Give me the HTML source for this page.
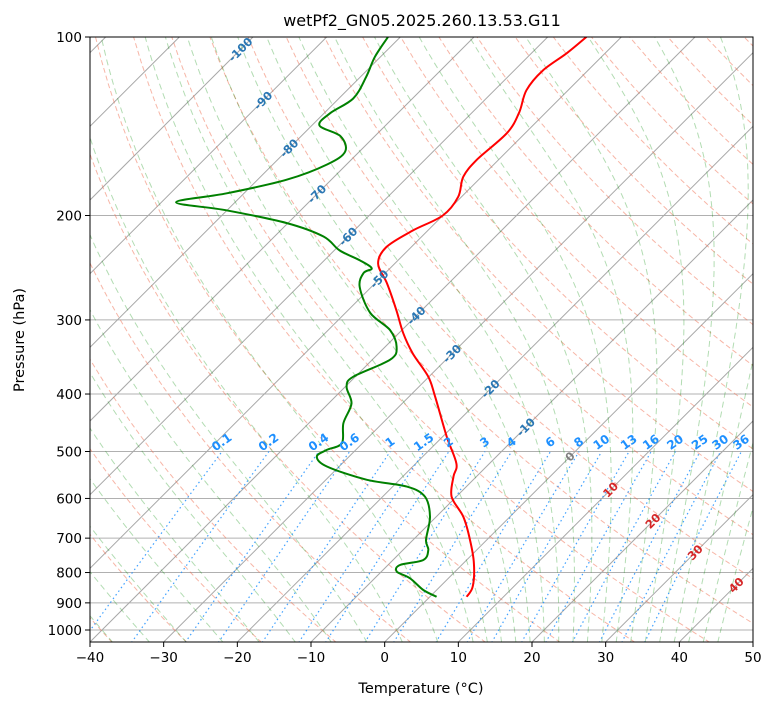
<!DOCTYPE html>
<html><head><meta charset="utf-8"><style>
body{margin:0;background:#fff;}
svg{display:block;font-family:"DejaVu Sans","Liberation Sans",sans-serif;}
</style></head><body>
<svg id="chart" width="775" height="708" viewBox="0 0 775 708" xmlns="http://www.w3.org/2000/svg">
<defs><clipPath id="plotclip"><rect x="90" y="37" width="663" height="605"/></clipPath></defs>
<rect width="775" height="708" fill="#fff"/>
<text x="422" y="26" text-anchor="middle" font-size="16">wetPf2_GN05.2025.260.13.53.G11</text>
<g id="plot" clip-path="url(#plotclip)"></g>
<g id="labels"></g>
<rect x="90" y="37" width="663" height="605" fill="none" stroke="#000" stroke-width="1"/>
<g id="axes"></g>
<text x="421" y="693" text-anchor="middle" font-size="14.5">Temperature (°C)</text>
<text x="24" y="340" text-anchor="middle" font-size="14.5" transform="rotate(-90 24 340)">Pressure (hPa)</text>
</svg>
<script>
// ---- data ----
const tempPressure = [879,845,772,705,644,596,551,524,472,404,374,342,316,289,260,241,226,212,200,186,172,161,145,134,123,114,106.5,100];
const tempValues = [4.98,4.44,1.44,-2.26,-6.34,-10.63,-13.12,-14.48,-19.45,-26.47,-30.09,-35.3,-39.38,-43.43,-48.42,-52.27,-53.38,-52.04,-50.0,-50.45,-52.49,-52.94,-52.49,-53.63,-55.65,-56.11,-55.2,-54.74];
const dewPressure = [879,856,818,797,777,762,733,705,644,596,573,558,530,510,497,484,448,415,389,374,350,333,312,292,264,250,245.5,238,229,217,206,196,190,183.5,174,164,156,147,141,134.5,127,117,108,100];
const dewValues = [0.91,-1.82,-5.21,-7.91,-8.37,-5.89,-6.57,-8.24,-10.86,-14.25,-18.09,-24.43,-31.67,-34.38,-33.93,-32.81,-35.3,-36.88,-39.81,-40.27,-37.56,-38.45,-41.63,-46.61,-51.58,-52.95,-52.49,-55.2,-59.28,-63.35,-70.13,-80.08,-88.0,-82.35,-76.01,-72.62,-71.94,-74.66,-78.96,-79.19,-78.06,-79.18,-80.76,-81.67];
const xTicks = [-40,-30,-20,-10,0,10,20,30,40,50];
const yTicks = [100,200,300,400,500,600,700,800,900,1000];
const isoLabels = [-100,-90,-80,-70,-60,-50,-40,-30,-20,-10,0,10,20,30,40];
const isoLabelPressure = [105,128,154,184,217,256,295,342,392,455,510,580,655,740,840];
const mixingRatios = [0.1,0.2,0.4,0.6,1,1.5,2,3,4,6,8,10,13,16,20,25,30,36];
const moistStarts = [-50,-45,-40,-35,-30,-25,-20,-15,-10,-5,0,5,10,12,14,16,18,20,22,24,26,28,30,32,34,36,38,40,42,44];

// ---- axis functions ----
const X0=90,X1=753,Y0=37,YB=642,KX=(X1-X0)/90,PY=593;
function yOf(p){return Y0+PY*Math.log10(p/100);}
function xOf(T,p){const y=yOf(p);return X0+(T+40)*KX+(YB-y);}
const NS="http://www.w3.org/2000/svg";
const plot=document.getElementById('plot'),labels=document.getElementById('labels'),axes=document.getElementById('axes');
function mk(tag,attrs,parent){const e=document.createElementNS(NS,tag);for(const k in attrs)e.setAttribute(k,attrs[k]);parent.appendChild(e);return e;}
function polyPts(arr){return arr.map(a=>a[0].toFixed(1)+','+a[1].toFixed(1)).join(' ');}

for(let p=100;p<=1000;p+=100){
  const l=mk('line',{x1:X0,x2:X1,y1:yOf(p),y2:yOf(p),stroke:'#b0b0b0','stroke-width':1},plot);
  
  
}
for(let T=-160;T<=60;T+=10){
  const l=mk('line',{x1:xOf(T,1050),y1:yOf(1050),x2:xOf(T,100),y2:yOf(100),stroke:'#a8a8a8','stroke-width':1},plot);
  
  
}
for(let th=203;th<=573;th+=10){
  const pts=[];
  for(let p=1050;p>=100;p-=10){pts.push([xOf(th*Math.pow(p/1000,0.2857)-273.15,p),yOf(p)]);}
  const l=mk('polyline',{points:polyPts(pts),fill:'none',stroke:'rgba(240,110,80,0.5)','stroke-width':1,'stroke-dasharray':'5,3'},plot);
  
  
}
function es(Tc){return 6.112*Math.exp(17.67*Tc/(Tc+243.5));}
function dTdp(T,p){const Tc=T-273.15;const e=es(Tc);const rs=0.622*e/(p-e);
  return (1/p)*(287.04*T+2.501e6*rs)/(1005.7+2.501e6*2.501e6*rs*0.622/(287.04*T*T));}
moistStarts.forEach(t0=>{
  const up=[];let T=t0+273.15;
  for(let p=1000;p>=100;p-=5){up.push([xOf(T-273.15,p),yOf(p)]);T-=dTdp(T,p)*5;}
  T=t0+273.15;const dn=[];
  for(let p=1000;p<=1050;p+=5){dn.push([xOf(T-273.15,p),yOf(p)]);T+=dTdp(T,p)*5;}
  const pts=dn.reverse().concat(up.slice(1));
  const l=mk('polyline',{points:polyPts(pts),fill:'none',stroke:'rgba(0,140,0,0.3)','stroke-width':1,'stroke-dasharray':'6,4'},plot);
  
  
});
function tdFromW(w,p){const e=p*w/(622+w);const L=Math.log(e/6.112);return 243.5*L/(17.67-L);}
mixingRatios.forEach(w=>{
  const pts=[];for(let p=1050;p>=500;p-=10)pts.push([xOf(tdFromW(w,p),p),yOf(p)]);
  const l=mk('polyline',{points:polyPts(pts),fill:'none',stroke:'#1e90ff','stroke-width':1.2,'stroke-dasharray':'1.5,3','stroke-opacity':0.85},plot);
  
  
  const x=xOf(tdFromW(w,500),500)+2,y=yOf(500)-6;
  const t=mk('text',{x:x,y:y,'text-anchor':'middle','font-size':12,'font-weight':'bold',fill:'#1e90ff',transform:`rotate(-35 ${x} ${y})`},labels);
  t.textContent=String(w);
  
  
});
isoLabels.forEach((T,i)=>{
  const p=isoLabelPressure[i];
  const yy=yOf(p),x=xOf(T,p);
  const col=T<0?'#2a77b4':(T===0?'#808080':'#d62728');
  const t=mk('text',{x:x,y:yy+4,'text-anchor':'middle','font-size':11.5,'font-weight':'bold',fill:col,transform:`rotate(-45 ${x} ${yy})`},labels);
  t.textContent=String(T);
  
  
});
function smoothPath(P){let d='M'+P[0][0].toFixed(1)+','+P[0][1].toFixed(1);
  for(let i=0;i<P.length-1;i++){const p0=P[Math.max(i-1,0)],p1=P[i],p2=P[i+1],p3=P[Math.min(i+2,P.length-1)];
    const c1=[p1[0]+(p2[0]-p0[0])/6,p1[1]+(p2[1]-p0[1])/6],c2=[p2[0]-(p3[0]-p1[0])/6,p2[1]-(p3[1]-p1[1])/6];
    d+=` C${c1[0].toFixed(1)},${c1[1].toFixed(1)} ${c2[0].toFixed(1)},${c2[1].toFixed(1)} ${p2[0].toFixed(1)},${p2[1].toFixed(1)}`;}
  return d;}
const tp=tempPressure.map((p,i)=>[xOf(tempValues[i],p),yOf(p)]);
const tl=mk('path',{d:smoothPath(tp),fill:'none',stroke:'#ff0000','stroke-width':2},plot);


const dp=dewPressure.map((p,i)=>[xOf(dewValues[i],p),yOf(p)]);
const dl=mk('path',{d:smoothPath(dp),fill:'none',stroke:'#008000','stroke-width':2},plot);


xTicks.forEach(T=>{
  const x=X0+(T+40)*KX;
  const l=mk('line',{x1:x,x2:x,y1:YB,y2:YB+5,stroke:'#000'},axes);
  
  
  const t=mk('text',{x:x,y:YB+20,'text-anchor':'middle','font-size':13.5},axes);
  t.textContent=(T<0?'\u2212'+(-T):String(T));
  
  
});
yTicks.forEach(p=>{
  const y=yOf(p);
  const l=mk('line',{x1:X0-5,x2:X0,y1:y,y2:y,stroke:'#000'},axes);
  
  
  const t=mk('text',{x:X0-8,y:y+5,'text-anchor':'end','font-size':13.5},axes);
  t.textContent=String(p);
  
  
});
</script>
</body></html>
